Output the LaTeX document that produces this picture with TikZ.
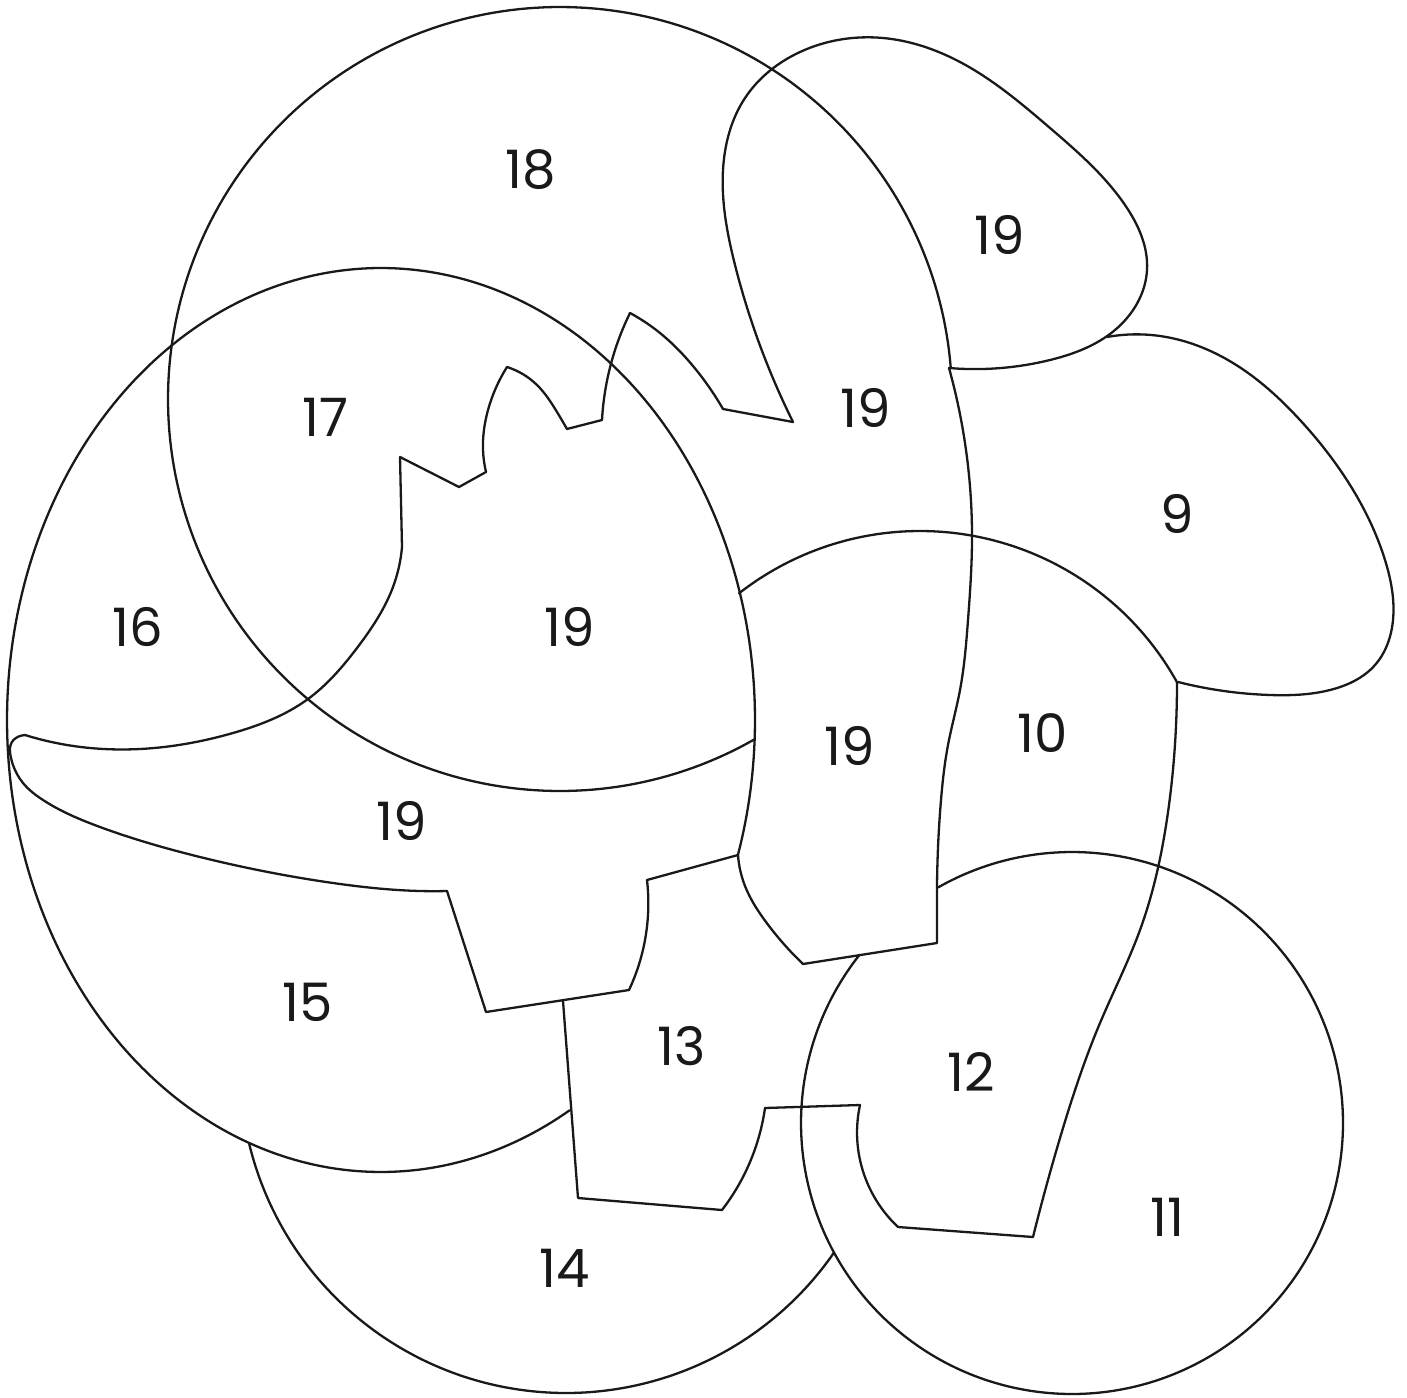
\documentclass[tikz,border=0pt]{standalone}
\usepackage{fontspec}
\setmainfont{Poppins}
\usetikzlibrary{hobby}
\begin{document}
\begin{tikzpicture}[x=1pt,y=-1pt,line width=2.3pt,line cap=round,line join=round,
  outline/.style={draw=black!90},
  curvy/.style={draw=black!90,use Hobby shortcut},
  lbl/.style={font=\fontsize{53}{53}\selectfont,anchor=base,inner sep=0pt,text=black!90}]
\useasboundingbox (0,0) rectangle (1407,1397);
% big circle (18)
\draw[outline] plot[domain=60.3:355.4,samples=240,variable=\t] ({560+392*cos(\t)},{399+392*sin(\t)});
% ellipse (17/16/15)
\draw[outline] plot[domain=59.7:377.4,samples=300,variable=\t] ({381+374*cos(\t)},{720+452*sin(\t)});
% circle 14
\draw[outline] plot[domain=34.7:166.5,samples=150,variable=\t] ({566+326*cos(\t)},{1067+326*sin(\t)});
% circle 11
\draw[outline] plot[domain=240.4:578.4,samples=300,variable=\t] ({1072+271*cos(\t)},{1123+271*sin(\t)});
% circle 10
\draw[outline] plot[domain=232:331,samples=120,variable=\t] ({920+294*cos(\t)},{825+294*sin(\t)});
% teardrop
\draw[curvy] (949,368) .. (1050,360) .. (1115,330) .. (1147,270) .. (1125,205) .. (1050,128) .. (960,62) .. (883,38) .. (800,52) .. (745,98) .. (723,170) .. (735,265) .. (793,422);
\draw[outline] (793,422) -- (723,409);
\draw[curvy] (723,409) .. (693,366) .. (660,333) .. (630,313);
\draw[curvy] (630,313) .. (612,360) .. (602,420);
\draw[outline] (602,420) -- (567,429);
\draw[curvy] (567,429) .. (557,412) .. (537,385) .. (507,367);
\draw[curvy] (507,367) .. (488,410) .. (483,450) .. (486,472);
\draw[outline] (486,472) -- (459,487) -- (400,457) -- (402,547);
\draw[curvy] (402,547) .. (393,587) .. (357,648) .. (308,699) .. (233,733) .. (140,749) .. (67,745) .. (25,735);
\draw[outline] (25,735) .. controls (15,736) and (9,742) .. (10,752);
\draw[curvy] (10,752) .. (13,765) .. (23,783) .. (43,800) .. (100,827) .. (200,857) .. (333,883) .. (420,891) .. (447,891);
\draw[outline] (447,891) -- (486,1012) -- (629,990);
\draw[curvy] (629,990) .. (645,940) .. (647,880);
\draw[outline] (647,880) -- (738,855);
\draw[curvy] (738,855) .. (745,886) .. (766,922) .. (803,964);
\draw[outline] (803,964) -- (937,943) -- (937,887);
\draw[curvy] (937,887) .. (941,800) .. (948,745) .. (960,690) .. (968,620) .. (972,540) .. (966,450) .. (949,368);
% region 13 / 12
\draw[outline] (563,1001) -- (578,1198) -- (722,1210);
\draw[curvy] (722,1210) .. (750,1162) .. (765,1108);
\draw[outline] (765,1108) -- (860,1105);
\draw[curvy] (860,1105) .. (860,1160) .. (898,1227);
\draw[outline] (898,1227) -- (1033,1237);
\draw[curvy] (1033,1237) .. (1060,1138) .. (1100,1023) .. (1140,930) .. (1167,819) .. (1175,744) .. (1177,682);
% shape 9
\draw[curvy] (1107,337) .. (1160,336) .. (1233,363) .. (1300,420) .. (1350,485) .. (1385,560) .. (1393,620) .. (1375,665) .. (1330,690) .. (1270,695) .. (1178,682);
% labels
\node[lbl] (l18) at (531,188) {18};
\node[lbl] (l19a) at (1000,254) {19};
\node[lbl] (l17) at (325,436) {17};
\node[lbl] (l19b) at (866,427) {19};
\node[lbl] (l9) at (1177,533) {9};
\node[lbl] (l16) at (138,646) {16};
\node[lbl] (l19c) at (570,646) {19};
\node[lbl] (l10) at (1043,752) {10};
\node[lbl] (l19d) at (850,765) {19};
\node[lbl] (l19e) at (402,840) {19};
\node[lbl] (l15) at (308,1021) {15};
\node[lbl] (l13) at (682,1065) {13};
\node[lbl] (l12) at (971,1091) {12};
\node[lbl] (l11) at (1167,1236) {11};
\node[lbl] (l14) at (565,1287) {14};
\end{tikzpicture}
\end{document}
